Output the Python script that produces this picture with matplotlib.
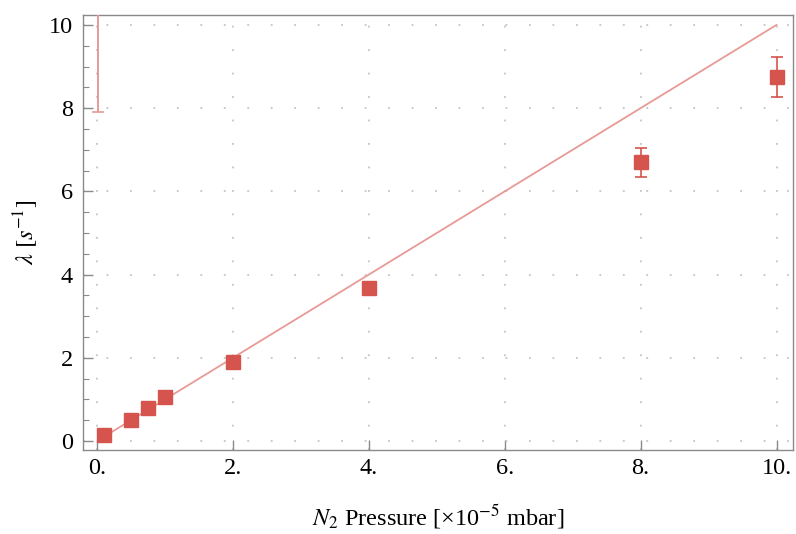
import matplotlib
matplotlib.use("Agg")
import matplotlib.pyplot as plt
import numpy as np

# data
pressure = [0.1, 0.5, 0.75, 1.0, 2.0, 4.0, 8.0, 10.0]
rate = [0.15, 0.5, 0.8, 1.05, 1.9, 3.68, 6.7, 8.75]
rate_err = [0.05, 0.05, 0.05, 0.05, 0.08, 0.1, 0.35, 0.47]

# stray error bar near x=0 (centre off the top of the plot)
stray_x = [0.01]
stray_y = [12.0]
stray_err = [4.1]

# linear fit
fit_slope = 1.0
fit_icpt = 0.0
fit_x = [0.1, 10.0]

xticks = [0, 2, 4, 6, 8, 10]
xticklabels = ["0.", "2.", "4.", "6.", "8.", "10."]
yticks = [0, 2, 4, 6, 8, 10]

plt.rcParams['font.family'] = ['Liberation Serif', 'DejaVu Serif']
plt.rcParams['mathtext.fontset'] = 'stix'

pt_col = '#d6544e'
line_col = '#e89a96'
frame_col = '#8a8a8a'

fig = plt.figure(figsize=(7.96, 5.34), dpi=100)
ax = fig.add_axes([0.104, 0.157, 0.892, 0.815])

fx = np.array(fit_x)
ax.plot(fx, fit_slope * fx + fit_icpt, color=line_col, lw=1.3, zorder=2)

ax.errorbar(pressure, rate, yerr=rate_err, fmt='s', color=pt_col, ecolor=pt_col,
            markersize=10, elinewidth=1.2, capsize=4.5, capthick=1.2, zorder=3)
ax.errorbar(stray_x, stray_y, yerr=stray_err, fmt='none', ecolor=line_col,
            elinewidth=1.4, capsize=4.5, capthick=1.2, zorder=3)

ax.set_xlim(-0.21, 10.24)
ax.set_ylim(-0.22, 10.24)
ax.set_xticks(xticks)
ax.set_xticklabels(xticklabels)
ax.set_yticks(yticks)
ax.set_yticks(np.arange(0, 10.5, 0.5), minor=True)

ax.grid(True, which='major', color='#c4c4c4', linestyle=(0, (1, 12)), linewidth=1.3)
ax.tick_params(which='major', direction='in', length=7, width=1, color=frame_col,
               labelsize=17.5, top=False, right=False)
ax.tick_params(which='minor', direction='in', length=4, width=0.8, color=frame_col,
               top=False, right=False)
for s in ax.spines.values():
    s.set_color(frame_col)
    s.set_linewidth(1.0)
ax.tick_params(axis='x', pad=6)
ax.tick_params(axis='y', pad=7)

ax.set_xlabel(r'$N_2$ Pressure [×10$^{-5}$ mbar]', fontsize=17.5, labelpad=16)
ax.set_ylabel(r'$\lambda\ [s^{-1}]$', fontsize=17.5, labelpad=6)

fig.savefig('out.png', dpi=100)
